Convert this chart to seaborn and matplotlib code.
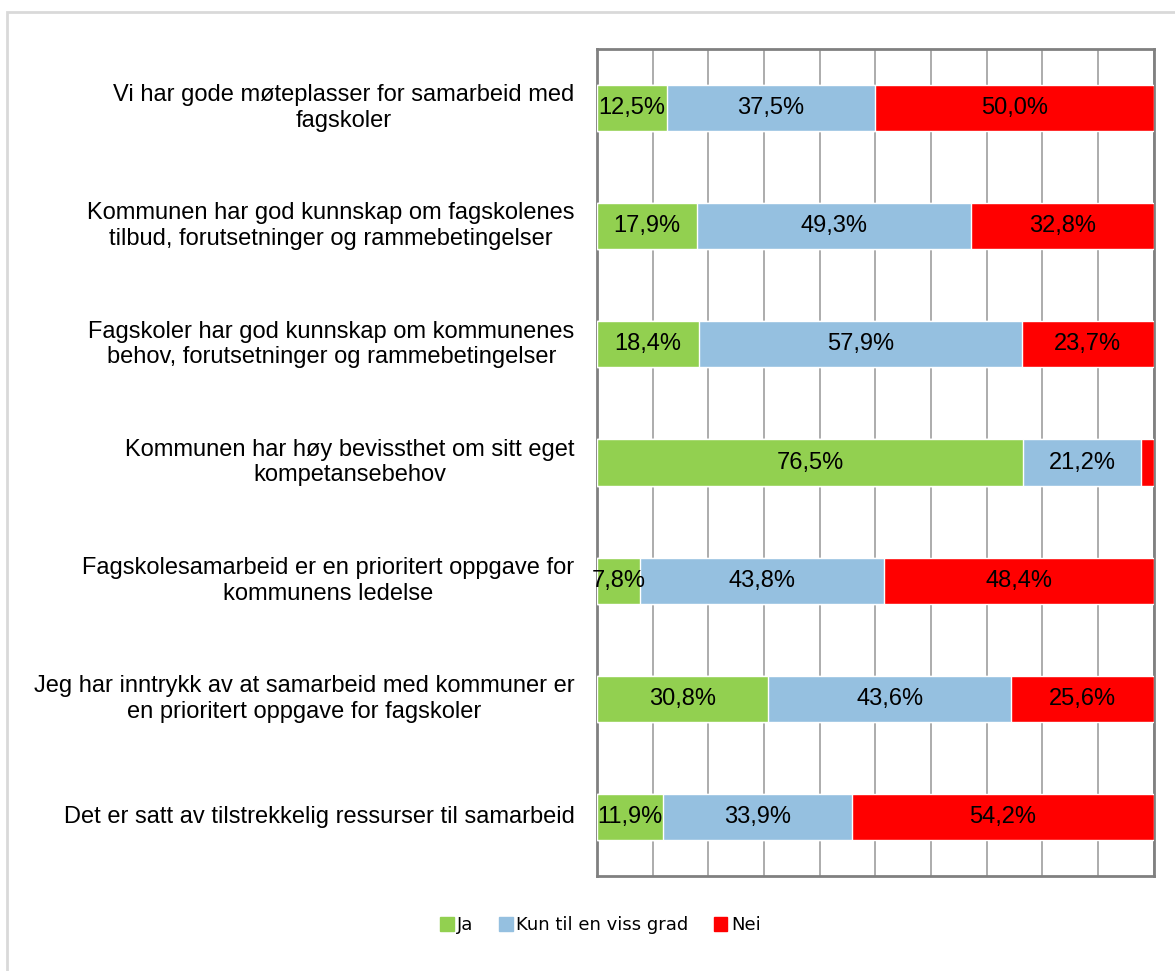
import pandas as pd
import seaborn as sns
import matplotlib.pyplot as plt
from matplotlib.patches import Rectangle, Patch

questions = [
    "Vi har gode møteplasser for samarbeid med\nfagskoler",
    "Kommunen har god kunnskap om fagskolenes\ntilbud, forutsetninger og rammebetingelser",
    "Fagskoler har god kunnskap om kommunenes\nbehov, forutsetninger og rammebetingelser",
    "Kommunen har høy bevissthet om sitt eget\nkompetansebehov",
    "Fagskolesamarbeid er en prioritert oppgave for\nkommunens ledelse",
    "Jeg har inntrykk av at samarbeid med kommuner er\nen prioritert oppgave for fagskoler",
    "Det er satt av tilstrekkelig ressurser til samarbeid",
]
ja = [12.5, 17.9, 18.4, 76.5, 7.8, 30.8, 11.9]
kun = [37.5, 49.3, 57.9, 21.2, 43.8, 43.6, 33.9]
nei = [50.0, 32.8, 23.7, 2.3, 48.4, 25.6, 54.2]
series_names = ["Ja", "Kun til en viss grad", "Nei"]
colors = ["#92D050", "#95C0E0", "#FF0000"]

df = pd.DataFrame({"q": questions, "Ja": ja, "Kun": kun, "Nei": nei})
df["c1"] = df["Ja"]
df["c2"] = df["Ja"] + df["Kun"]
df["c3"] = df["c2"] + df["Nei"]

sns.set_style("white")
plt.rcParams['font.family'] = ['Liberation Sans', 'DejaVu Sans']
plt.rcParams['text.color'] = 'black'

fig = plt.figure(figsize=(11.75, 9.71), dpi=100)
ax = fig.add_axes([0.508, 0.0978, 0.474, 0.8517])

# stacked bars drawn as cumulative totals, back to front
for col, c in zip(["c3", "c2", "c1"], colors[::-1]):
    sns.barplot(data=df, x=col, y="q", color=c, width=0.39, ax=ax,
                saturation=1, orient="h", zorder=3)

ax.set_xlim(0, 100)
ax.set_xlabel("")
ax.set_ylabel("")
ax.set_xticks(range(0, 101, 10))
ax.set_xticklabels([])
ax.tick_params(axis="x", length=0)
ax.grid(axis="x", color="#a6a6a6", linewidth=1.3, zorder=0)
ax.set_axisbelow(True)

# y ticks at category boundaries, labels at centers
n = len(questions)
ax.set_ylim(n - 0.5, -0.5)
ax.set_yticks([i + 0.5 for i in range(n - 1)])
ax.set_yticklabels([])
ax.tick_params(axis="y", direction="in", length=7, color="#808080", width=1)
for i, q in enumerate(questions):
    ax.text(-0.04, i, q, transform=ax.get_yaxis_transform(), ha="right",
            va="center", multialignment="center", fontsize=17, linespacing=1.22,
            color="black")

for s in ax.spines.values():
    s.set_color("#808080")
    s.set_linewidth(2)
    s.set_visible(True)

# value labels
for i in range(n):
    starts = [0, df["c1"][i], df["c2"][i]]
    vals = [df["Ja"][i], df["Kun"][i], df["Nei"][i]]
    for st, v in zip(starts, vals):
        if v < 5:
            continue
        ax.text(st + v / 2, i, f"{v:.1f}%".replace(".", ","), ha="center",
                va="center", fontsize=17, zorder=5, color="black")

handles = [Patch(color=c, label=l) for c, l in zip(colors, series_names)]
leg = fig.legend(handles=handles, loc="center", bbox_to_anchor=(0.511, 0.047), ncol=3,
                 frameon=False, handlelength=0.75, handleheight=0.75, handletextpad=0.2,
                 columnspacing=1.4, prop={"family": "DejaVu Sans", "size": 13})
for t in leg.get_texts():
    t.set_color("black")

fig.patches.append(Rectangle((7 / 1175, -0.1), 1.2, 1 - 12 / 971 + 0.1,
                             transform=fig.transFigure, fill=False,
                             edgecolor="#d9d9d9", linewidth=2))

fig.savefig("out.png", dpi=100)
